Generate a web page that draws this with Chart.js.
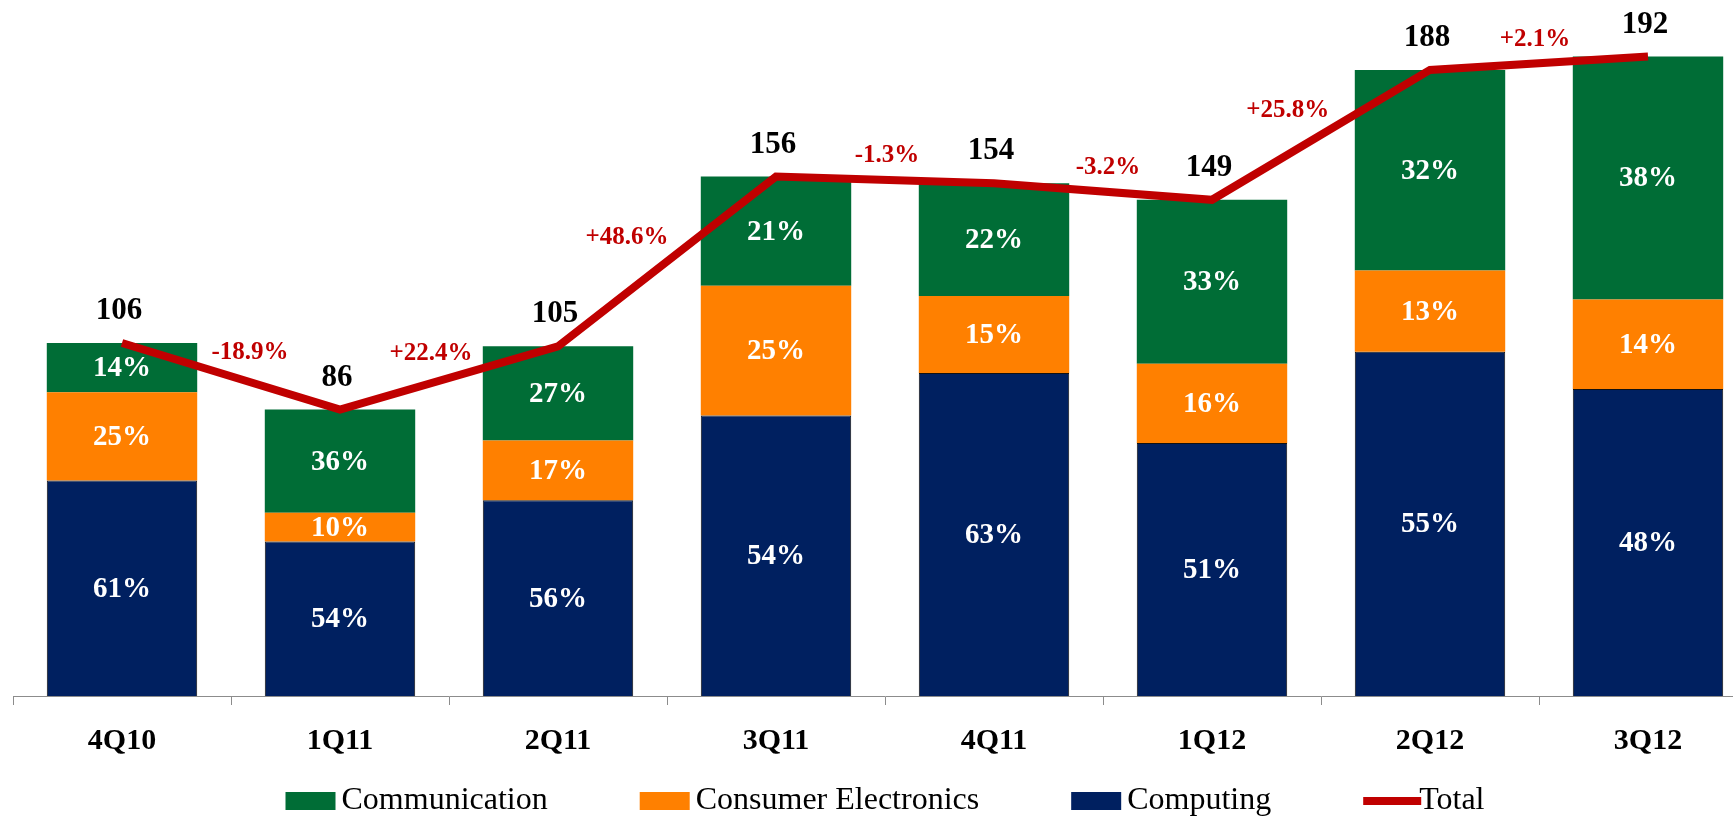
<!DOCTYPE html>
<html>
<head>
<meta charset="utf-8">
<title>Revenue by segment</title>
<script src="https://cdn.jsdelivr.net/npm/chart.js@4.4.1/dist/chart.umd.min.js"></script>
<style>
    html, body { margin: 0; padding: 0; background: #fff; overflow: hidden; }
    #wrap { width: 1760px; height: 817px; }
</style>
</head>
<body>
<div id="wrap"><canvas id="chart"></canvas></div>
<script>
// data
const quarters = ['4Q10', '1Q11', '2Q11', '3Q11', '4Q11', '1Q12', '2Q12', '3Q12'];
const totals = [106, 86, 105, 156, 154, 149, 188, 192];
const computingShare = [61, 54, 56, 54, 63, 51, 55, 48];
const consumerShare = [25, 10, 17, 25, 15, 16, 13, 14];
const communicationShare = [14, 36, 27, 21, 22, 33, 32, 38];
const computingValues = [64.7, 46.4, 58.8, 84.2, 97.0, 76.0, 103.4, 92.2];
const consumerValues = [26.5, 8.6, 17.9, 39.0, 23.1, 23.8, 24.4, 26.9];
const communicationValues = [14.8, 31.0, 28.3, 32.8, 33.9, 49.2, 60.2, 72.9];
const growthLabels = ['-18.9%', '+22.4%', '+48.6%', '-1.3%', '-3.2%', '+25.8%', '+2.1%'];
const legendOrder = ['Communication', 'Consumer Electronics', 'Computing', 'Total'];

const FONT = '"Liberation Serif", "Times New Roman", serif';

// value labels: shares in bars, totals above points, growth between points
const labelPlugin = {
    id: 'valueLabels',
    afterDatasetsDraw(chart) {
        const ctx = chart.ctx;
        ctx.save();
        ctx.textAlign = 'center';
        ctx.textBaseline = 'middle';

        ctx.font = 'bold 29px ' + FONT;
        ctx.fillStyle = '#fff';
        chart.data.datasets.forEach((ds, di) => {
            if (!ds.shares) return;
            chart.getDatasetMeta(di).data.forEach((bar, i) => {
                ctx.fillText(ds.shares[i] + '%', bar.x, (bar.y + bar.base) / 2 + 1);
            });
        });

        const lineIdx = chart.data.datasets.findIndex(d => d.type === 'line');
        const pts = chart.getDatasetMeta(lineIdx).data;
        ctx.font = 'bold 31px ' + FONT;
        ctx.fillStyle = '#000';
        pts.forEach((p, i) => ctx.fillText(String(totals[i]), p.x - 3, p.y - 32));

        ctx.font = 'bold 25px ' + FONT;
        ctx.fillStyle = '#C00000';
        growthLabels.forEach((t, i) => {
            const a = pts[i], b = pts[i + 1];
            const dx = b.x - a.x, dy = b.y - a.y;
            const len = Math.hypot(dx, dy);
            ctx.fillText(t, (a.x + b.x) / 2 + dy / len * 65, (a.y + b.y) / 2 - 24);
        });
        ctx.restore();
    }
};

// legend row under the axis
const legendPlugin = {
    id: 'bottomLegend',
    afterDraw(chart) {
        const ctx = chart.ctx;
        const area = chart.chartArea;
        ctx.save();
        ctx.font = '32px ' + FONT;
        ctx.textAlign = 'left';
        ctx.textBaseline = 'middle';
        const items = legendOrder.map(name => chart.data.datasets.find(d => d.label === name));
        const widths = items.map(d => 56 + ctx.measureText(d.label).width);
        const gap = 92;
        const full = widths.reduce((s, w) => s + w, 0) + gap * (items.length - 1);
        let x = (area.left + area.right) / 2 - full / 2;
        const y = 801;
        items.forEach((d, i) => {
            if (d.type === 'line') {
                ctx.fillStyle = d.borderColor;
                ctx.fillRect(x, y - 4, 58, 8);
            } else {
                ctx.fillStyle = d.backgroundColor;
                ctx.fillRect(x, y - 9, 50, 18);
            }
            ctx.fillStyle = '#000';
            ctx.fillText(d.label, x + 56, y);
            x += widths[i] + gap;
        });
        ctx.restore();
    }
};

new Chart(document.getElementById('chart'), {
    type: 'bar',
    data: {
        labels: quarters,
        datasets: [
            { label: 'Total', type: 'line', data: totals, stack: 'total', order: -1,
              borderColor: '#C00000', borderWidth: 8, pointRadius: 0, fill: false, tension: 0,
              borderCapStyle: 'butt', borderJoinStyle: 'miter' },
            { label: 'Computing', data: computingValues, shares: computingShare, stack: 'bars',
              backgroundColor: '#002060', borderColor: '#111', borderWidth: 1, borderSkipped: 'bottom' },
            { label: 'Consumer Electronics', data: consumerValues, shares: consumerShare, stack: 'bars',
              backgroundColor: '#FF8000' },
            { label: 'Communication', data: communicationValues, shares: communicationShare, stack: 'bars',
              backgroundColor: '#006D36' }
        ]
    },
    options: {
        responsive: true,
        maintainAspectRatio: false,
        animation: false,
        barPercentage: 0.69,
        categoryPercentage: 1.0,
        layout: { padding: { left: 13, right: 3, top: 0, bottom: 0 } },
        plugins: { legend: { display: false }, tooltip: { enabled: false } },
        scales: {
            x: {
                stacked: true,
                grid: { drawOnChartArea: false, tickLength: 9, color: '#8c8c8c', offset: true },
                border: { color: '#8c8c8c', width: 1 },
                ticks: { color: '#000', padding: 18, font: { family: FONT, size: 30, weight: 'bold' } },
                afterFit: s => { s.height = 121; }
            },
            y: { display: false, stacked: true, min: 0, max: 209 }
        }
    },
    plugins: [labelPlugin, legendPlugin]
});
</script>
</body>
</html>
